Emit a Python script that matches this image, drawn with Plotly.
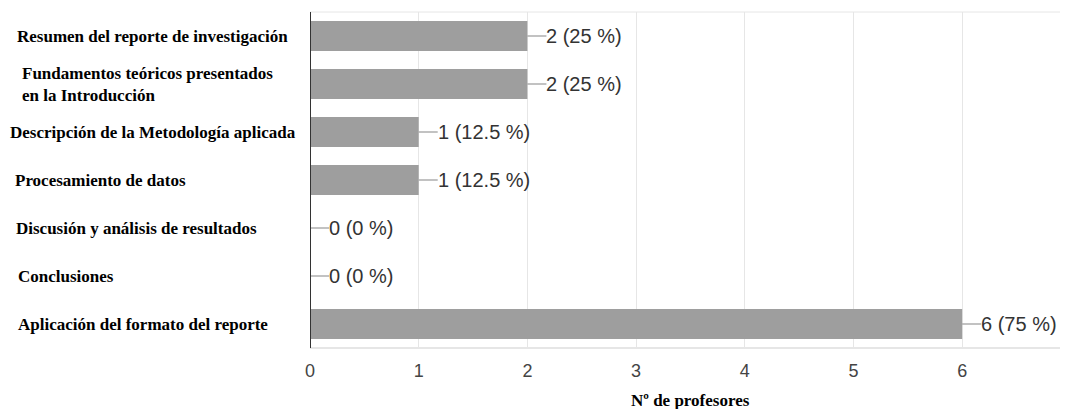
import plotly.graph_objects as go

categories = [
    "Resumen del reporte de investigación",
    "Fundamentos teóricos presentados<br>en la Introducción",
    "Descripción de la Metodología aplicada",
    "Procesamiento de datos",
    "Discusión y análisis de resultados",
    "Conclusiones",
    "Aplicación del formato del reporte",
]
values = [2, 2, 1, 1, 0, 0, 6]
percents = ["25", "25", "12.5", "12.5", "0", "0", "75"]
x_ticks = [0, 1, 2, 3, 4, 5, 6]
x_title = "Nº de profesores"

# layout / style (pixel left positions of category labels)
label_left_px = [15, 20, 8, 13, 14, 16, 16]
L, R, T, B = 310, 6, 12, 61
W, H = 1066, 409
plot_w = W - L - R
serif = "Liberation Serif, Times New Roman, serif"
sans = "Liberation Sans, Arial, sans-serif"

fig = go.Figure()
fig.add_trace(go.Bar(
    y=categories, x=values, orientation="h",
    marker=dict(color="#9e9e9e", line=dict(width=0)),
    width=0.62, hoverinfo="skip",
))

shapes = []
annotations = []
for cat, v, p, lp in zip(categories, values, percents, label_left_px):
    shapes.append(dict(
        type="line", xref="x", yref="y", xsizemode="pixel", xanchor=v,
        x0=0, x1=19, y0=cat, y1=cat, line=dict(color="#999999", width=1.2),
    ))
    annotations.append(dict(
        x=v, y=cat, xref="x", yref="y", text=f"{v} ({p} %)", showarrow=False,
        xanchor="left", yanchor="middle", xshift=17,
        font=dict(family=sans, size=20, color="#333333"),
    ))
    annotations.append(dict(
        x=(lp - L) / plot_w, y=cat, xref="paper", yref="y", text=f"<b>{cat}</b>",
        showarrow=False, xanchor="left", yanchor="middle", align="left",
        font=dict(family=serif, size=17, color="#000000"),
    ))

annotations.append(dict(
    x=(690 - L) / plot_w, y=-0.155, xref="paper", yref="paper",
    text=f"<b>{x_title}</b>", showarrow=False, xanchor="center", yanchor="middle",
    font=dict(family=serif, size=17, color="#000000"),
))

fig.update_layout(
    width=W, height=H,
    margin=dict(l=L, r=R, t=T, b=B),
    plot_bgcolor="white", paper_bgcolor="white",
    showlegend=False,
    shapes=shapes, annotations=annotations,
    xaxis=dict(
        range=[0, 6.9], tickvals=x_ticks, showgrid=True, gridcolor="#e6e6e6",
        gridwidth=1, zeroline=False, showline=False,
        tickfont=dict(family=sans, size=18, color="#444444"), ticks="",
        ticklabelstandoff=10,
    ),
    yaxis=dict(
        autorange="reversed", showticklabels=False, showgrid=False, zeroline=False,
        showline=False,
    ),
)
fig.add_shape(type="line", xref="paper", yref="paper", x0=0, x1=1, y0=1, y1=1,
              line=dict(color="#e6e6e6", width=1))
fig.add_shape(type="line", xref="paper", yref="paper", x0=0, x1=1, y0=0, y1=0,
              line=dict(color="#e6e6e6", width=2))
fig.add_shape(type="line", xref="x", yref="paper", x0=0, x1=0, y0=0, y1=1,
              line=dict(color="#333333", width=2))

fig.write_html("out.html")
